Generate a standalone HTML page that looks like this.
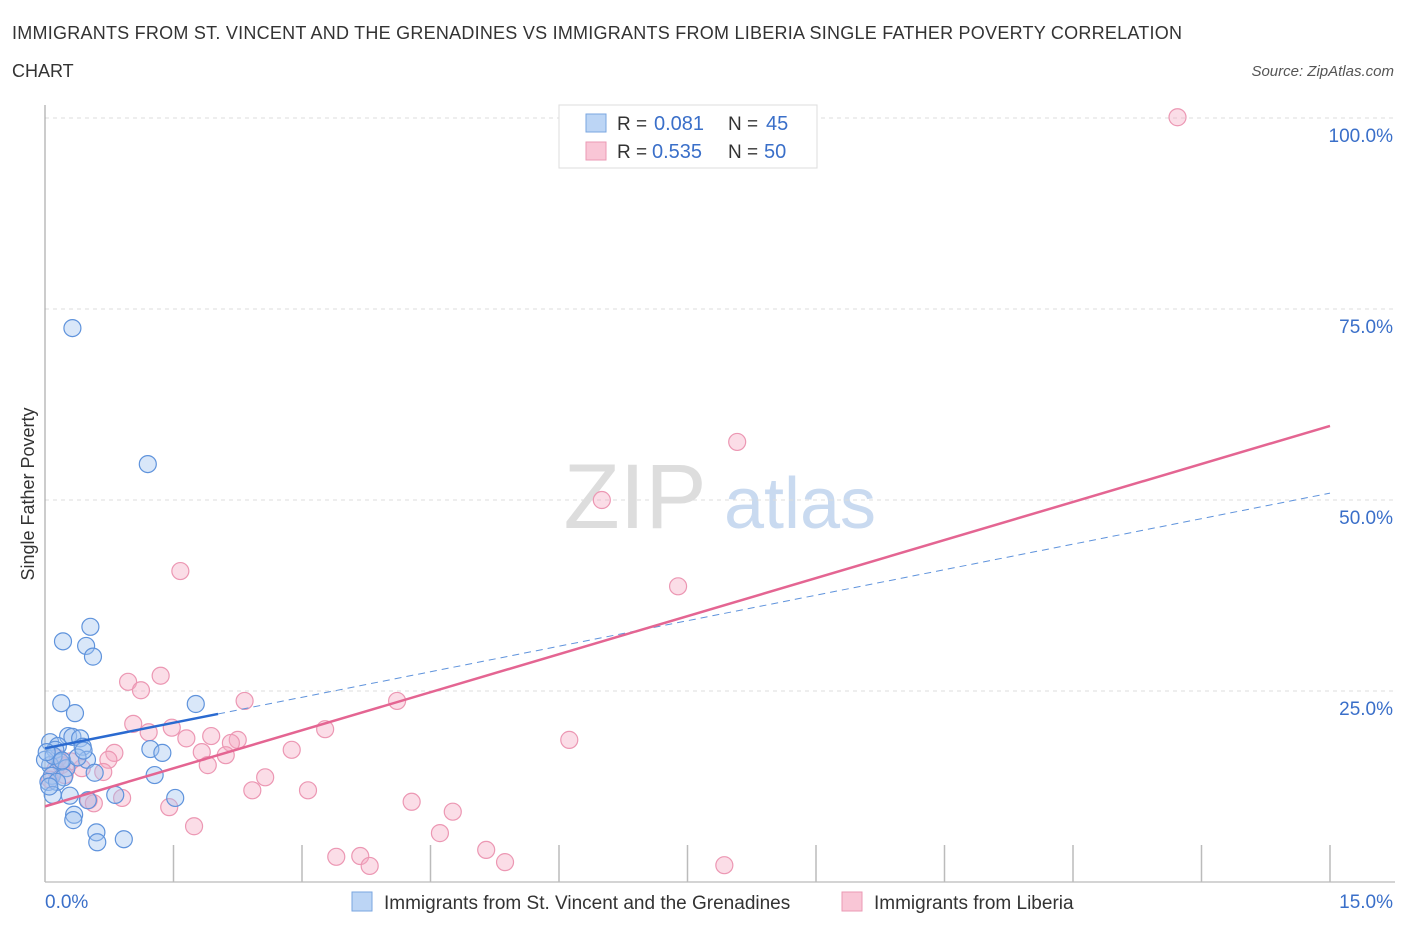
<!DOCTYPE html>
<html><head><meta charset="utf-8"><style>
body{margin:0;background:#fff;font-family:"Liberation Sans",sans-serif}
svg text{font-family:"Liberation Sans",sans-serif}
</style></head><body>
<svg id="c" width="1406" height="930" xmlns="http://www.w3.org/2000/svg">
<text x="12" y="39" font-size="18" fill="#333" textLength="1170">IMMIGRANTS FROM ST. VINCENT AND THE GRENADINES VS IMMIGRANTS FROM LIBERIA SINGLE FATHER POVERTY CORRELATION</text>
<text x="12" y="77" font-size="18" fill="#333">CHART</text>
<text x="1394" y="76" font-size="15" fill="#555" text-anchor="end" font-style="italic">Source: ZipAtlas.com</text>
<text x="635" y="528" font-size="92" fill="#ddd" text-anchor="middle" font-family="Liberation Serif">ZIP</text>
<text x="800" y="528" font-size="72" fill="#c9daf0" text-anchor="middle">atlas</text>
<text transform="translate(34,494) rotate(-90)" font-size="18" fill="#333" text-anchor="middle">Single Father Poverty</text>
<g id="grid"></g><g id="pts"></g><g id="lines"></g>
<g>
<rect x="559" y="105" width="258" height="63" fill="#fff" stroke="#ddd"/>
<rect x="586" y="114" width="20" height="18" fill="#bcd5f5" stroke="#7aa6e0"/>
<rect x="586" y="142" width="20" height="18" fill="#f9c6d6" stroke="#eb9ab4"/>
<text x="617" y="130" font-size="19" fill="#333">R =</text><text x="654" y="130" font-size="20" fill="#3a6fc9">0.081</text>
<text x="728" y="130" font-size="19" fill="#333">N =</text><text x="766" y="130" font-size="20" fill="#3a6fc9">45</text>
<text x="617" y="158" font-size="19" fill="#333">R =</text><text x="652" y="158" font-size="20" fill="#3a6fc9">0.535</text>
<text x="728" y="158" font-size="19" fill="#333">N =</text><text x="764" y="158" font-size="20" fill="#3a6fc9">50</text>
</g>
<g>
<rect x="352" y="892" width="20" height="19" fill="#bcd5f5" stroke="#7aa6e0"/>
<text x="384" y="909" font-size="19" fill="#333">Immigrants from St. Vincent and the Grenadines</text>
<rect x="842" y="892" width="20" height="19" fill="#f9c6d6" stroke="#eb9ab4"/>
<text x="874" y="909" font-size="19" fill="#333">Immigrants from Liberia</text>
</g>
</svg>
<script>
const yTicks=[25,50,75,100];
const yTickLabels=["25.0%","50.0%","75.0%","100.0%"];
const xTickLabels=["0.0%","15.0%"];
const blueX=[0.32,1.20,0.21,0.53,0.48,0.56,0.19,0.35,1.76,0.06,0.27,0.32,0.41,0.44,0.15,0.12,1.23,1.37,0.49,0.18,0.06,0.25,0.58,0.08,0.22,1.28,0.04,0.14,0.09,0.29,0.82,1.52,0.50,0.34,0.33,0.60,0.61,0.92,0.0,0.10,0.20,0.02,0.38,0.45,0.05];
const blueY=[72.5,54.7,31.5,33.4,30.9,29.5,23.4,22.1,23.3,18.3,19.1,19.0,18.8,17.7,17.8,17.3,17.4,16.9,16.0,15.7,15.3,14.9,14.3,13.9,13.7,14.0,13.1,13.1,11.4,11.3,11.4,11.0,10.7,8.8,8.1,6.5,5.2,5.6,16.0,16.5,15.9,17.0,16.3,17.2,12.5];
const pinkX=[13.22,8.08,6.50,1.58,7.39,1.35,0.97,1.12,2.33,4.11,1.03,1.21,1.48,3.27,1.65,1.94,2.25,2.17,6.12,2.88,1.83,2.11,0.81,0.74,1.90,0.19,0.43,0.68,2.57,3.07,2.42,0.90,0.51,0.57,4.28,1.45,4.76,1.74,4.61,5.15,3.40,3.68,5.37,3.79,7.93,0.12,0.23,0.06,0.30,0.15];
const pinkY=[100.1,57.6,50.0,40.7,38.7,27.0,26.2,25.1,23.7,23.7,20.7,19.6,20.2,20.0,18.8,19.1,18.6,18.2,18.6,17.3,17.0,16.6,16.9,16.0,15.3,15.3,14.9,14.4,13.7,12.0,12.0,11.0,10.7,10.3,10.5,9.8,9.2,7.3,6.4,4.2,3.3,3.4,2.6,2.1,2.2,14.7,14.0,13.4,15.8,16.2];
const blueTrend=[17.5,50.9]; const blueSolidEnd=2.02;
const pinkTrend=[9.9,59.7];
const NS="http://www.w3.org/2000/svg";
const X=v=>45+v/15*1285, Y=v=>882-v*7.64;
function mk(t,a,p){const e=document.createElementNS(NS,t);for(const k in a)e.setAttribute(k,a[k]);p.appendChild(e);return e;}
const g=document.getElementById('grid');
yTicks.forEach((t,i)=>{
 const l=mk('line',{x1:45,x2:1395,y1:Y(t),y2:Y(t),stroke:'#ddd','stroke-dasharray':'4,4'},g);
 
 
 const tx=mk('text',{x:1393,y:Y(t)+24,'font-size':19,fill:'#3a6fc9','text-anchor':'end'},g);
 tx.textContent=yTickLabels[i];
 
 
});
const ax=mk('line',{x1:45,x2:45,y1:105,y2:882,stroke:'#999'},g);


const bx=mk('line',{x1:45,x2:1395,y1:882,y2:882,stroke:'#aaa'},g);


for(let i=0;i<=10;i++){const t=mk('line',{x1:X(i*1.5),x2:X(i*1.5),y1:845,y2:882,stroke:'#bbb','stroke-width':1.5},g);
 
 }
[[0,'start',45],[15,'end',1393]].forEach((d,i)=>{const t=mk('text',{x:d[2],y:908,'font-size':19,fill:'#3a6fc9','text-anchor':d[1]},g);t.textContent=xTickLabels[i];
 
 });
const p=document.getElementById('pts');
pinkX.forEach((x,i)=>{const c=mk('circle',{cx:X(x),cy:Y(pinkY[i]),r:8.5,fill:'rgba(246,170,195,0.4)',stroke:'#ec97b3','stroke-width':1.2},p);
 
 });
blueX.forEach((x,i)=>{const c=mk('circle',{cx:X(x),cy:Y(blueY[i]),r:8.5,fill:'rgba(160,195,240,0.4)',stroke:'#5f93dc','stroke-width':1.2},p);
 
 });
const L=document.getElementById('lines');
const bAt=x=>blueTrend[0]+(blueTrend[1]-blueTrend[0])*x/15;
let a=mk('line',{x1:X(blueSolidEnd),y1:Y(bAt(blueSolidEnd)),x2:X(15),y2:Y(blueTrend[1]),stroke:'#5f93dc','stroke-dasharray':'7,5','stroke-width':1},L);


a=mk('line',{x1:X(0),y1:Y(blueTrend[0]),x2:X(blueSolidEnd),y2:Y(bAt(blueSolidEnd)),stroke:'#2a6ad0','stroke-width':2.5},L);


a=mk('line',{x1:X(0),y1:Y(pinkTrend[0]),x2:X(15),y2:Y(pinkTrend[1]),stroke:'#e46592','stroke-width':2.5},L);


</script>
</body></html>
